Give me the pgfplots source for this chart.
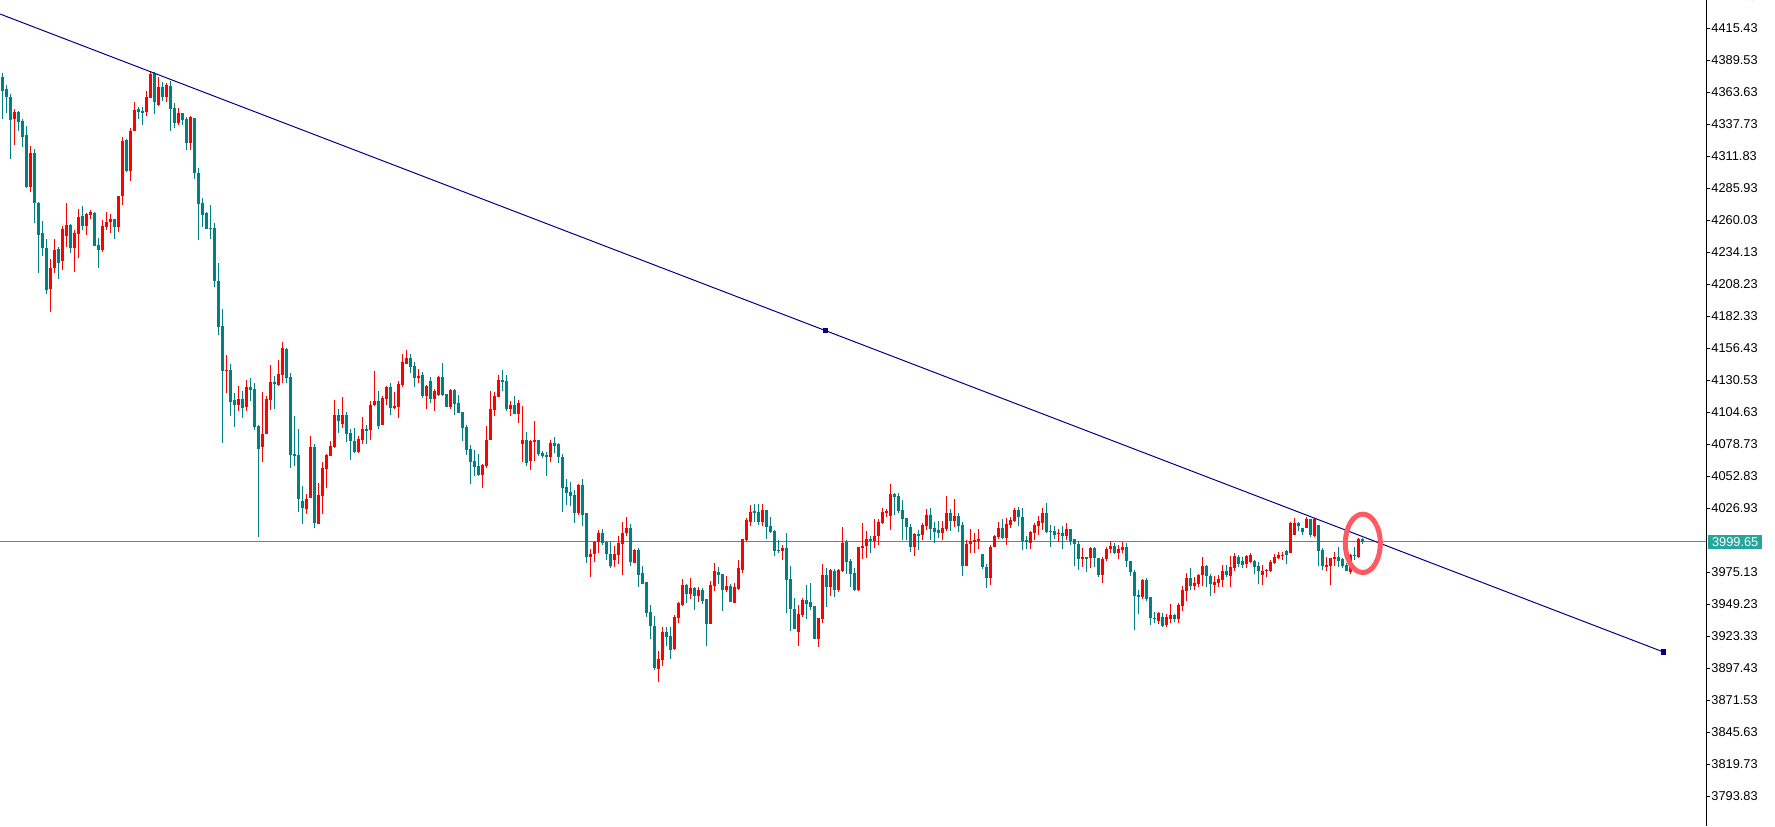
\documentclass[border=0pt]{standalone}
\usepackage{pgfplots}
\pgfplotsset{compat=1.18}
\usepackage{pgfplotstable}
\usepackage{fontspec}
\setmainfont{Liberation Sans}
\definecolor{bull}{RGB}{255,0,0}
\definecolor{bear}{RGB}{0,128,128}
\definecolor{pline}{RGB}{38,166,154}
\definecolor{tline}{RGB}{0,0,139}
\definecolor{ring}{RGB}{255,90,100}
\pgfplotstableread{
i o h l c
0 4375.7 4379.5 4341.7 4365.0
1 4366.3 4369.5 4347.1 4360.1
2 4359.8 4362.3 4309.3 4341.2
3 4341.7 4350.1 4320.9 4347.7
4 4347.7 4348.8 4332.6 4339.8
5 4340.4 4341.7 4319.6 4327.7
6 4329.0 4336.3 4286.1 4286.7
7 4287.2 4320.1 4283.1 4314.2
8 4314.2 4317.7 4258.0 4274.2
9 4274.2 4275.0 4217.0 4248.3
10 4249.7 4259.4 4231.3 4237.8
11 4237.8 4244.8 4200.3 4203.5
12 4204.3 4228.6 4185.9 4221.3
13 4221.3 4244.8 4217.5 4235.9
14 4236.7 4238.6 4212.7 4225.6
15 4227.0 4255.3 4219.7 4252.9
16 4247.2 4273.7 4238.1 4256.1
17 4256.1 4256.7 4233.7 4237.8
18 4237.8 4252.1 4218.1 4249.9
19 4249.1 4269.1 4229.7 4262.6
20 4263.4 4271.5 4252.1 4255.6
21 4255.6 4266.1 4248.0 4265.1
22 4264.2 4268.3 4260.7 4266.4
23 4266.1 4266.9 4239.1 4239.4
24 4239.9 4245.3 4221.6 4235.9
25 4235.9 4260.2 4234.3 4255.3
26 4254.8 4266.7 4252.1 4258.6
27 4258.6 4264.8 4249.9 4261.0
28 4261.0 4261.0 4244.8 4254.8
29 4254.8 4279.6 4250.7 4279.6
30 4279.6 4327.2 4272.3 4324.2
31 4324.7 4325.8 4299.3 4299.9
32 4299.9 4334.7 4292.1 4332.3
33 4332.3 4355.8 4332.3 4349.3
34 4350.1 4351.5 4342.0 4347.9
35 4348.5 4352.0 4337.1 4346.9
36 4347.4 4364.7 4344.7 4359.8
37 4359.3 4381.2 4359.3 4378.7
38 4379.3 4380.1 4346.3 4355.8
39 4353.3 4375.8 4352.5 4367.9
40 4367.9 4371.7 4356.3 4360.1
41 4360.1 4371.4 4356.0 4369.5
42 4368.7 4373.1 4332.6 4350.4
43 4350.9 4355.2 4334.7 4338.8
44 4339.0 4350.9 4337.4 4346.9
45 4346.9 4346.9 4337.4 4341.2
46 4342.0 4343.9 4316.9 4322.6
47 4322.6 4344.4 4316.9 4343.4
48 4343.1 4343.1 4293.7 4298.3
49 4298.3 4302.6 4244.0 4273.4
50 4274.0 4278.0 4254.8 4264.5
51 4266.1 4266.6 4252.9 4253.2
52 4253.7 4272.4 4244.8 4253.2
53 4253.7 4257.5 4205.9 4211.1
54 4211.1 4225.6 4167.3 4173.8
55 4174.3 4188.4 4079.8 4138.2
56 4138.2 4150.8 4120.3 4138.7
57 4138.4 4143.8 4101.7 4113.0
58 4114.4 4120.3 4092.8 4110.3
59 4110.3 4125.7 4105.8 4115.2
60 4115.2 4122.0 4100.1 4108.2
61 4109.0 4130.6 4105.8 4124.9
62 4124.9 4132.2 4113.9 4122.8
63 4123.3 4128.2 4090.1 4092.8
64 4093.6 4094.1 4003.7 4075.0
65 4076.6 4121.1 4064.4 4086.9
66 4086.9 4117.6 4086.9 4115.2
67 4114.4 4142.7 4106.3 4129.0
68 4129.0 4133.8 4107.1 4127.4
69 4126.6 4146.9 4126.1 4135.5
70 4134.7 4161.4 4128.0 4156.6
71 4155.8 4156.6 4128.2 4132.6
72 4133.1 4136.3 4059.7 4069.9
73 4070.7 4101.5 4060.8 4069.1
74 4069.9 4091.0 4023.8 4034.3
75 4032.7 4044.8 4014.1 4027.0
76 4026.2 4038.1 4022.4 4034.3
77 4035.1 4085.3 4035.1 4076.4
78 4076.4 4079.1 4010.8 4014.9
79 4014.1 4047.3 4014.1 4037.5
80 4036.7 4064.3 4022.2 4059.4
81 4058.6 4070.7 4043.2 4069.9
82 4069.1 4081.3 4069.1 4077.2
83 4076.1 4114.2 4075.6 4102.3
84 4102.3 4107.2 4087.8 4097.5
85 4095.0 4116.9 4091.8 4102.3
86 4102.3 4104.8 4080.5 4087.0
87 4087.8 4091.0 4065.9 4081.3
88 4081.3 4091.8 4071.6 4072.4
89 4072.4 4085.3 4071.6 4082.9
90 4082.1 4100.4 4078.9 4091.0
91 4091.0 4094.2 4078.9 4089.4
92 4090.2 4114.0 4082.4 4110.4
93 4110.4 4138.0 4109.6 4113.7
94 4113.7 4121.8 4091.0 4093.4
95 4094.2 4117.7 4094.2 4116.1
96 4115.3 4125.8 4110.4 4125.0
97 4125.0 4128.2 4102.3 4108.3
98 4107.7 4121.0 4107.2 4109.6
99 4108.8 4130.1 4099.9 4127.4
100 4126.6 4151.7 4125.3 4145.2
101 4143.6 4154.9 4143.6 4148.5
102 4148.5 4151.7 4136.3 4141.5
103 4142.0 4145.2 4125.3 4132.3
104 4132.3 4139.6 4128.2 4133.9
105 4134.7 4137.1 4116.1 4117.7
106 4117.7 4126.6 4107.2 4125.8
107 4129.9 4133.4 4112.0 4115.3
108 4115.3 4123.4 4105.6 4121.8
109 4118.5 4133.9 4117.7 4133.1
110 4133.1 4144.4 4117.7 4118.5
111 4119.3 4119.3 4108.8 4108.8
112 4108.8 4123.4 4107.2 4122.6
113 4122.6 4123.4 4102.3 4111.2
114 4112.0 4118.5 4103.7 4103.9
115 4104.8 4104.8 4081.3 4091.8
116 4092.6 4094.2 4069.9 4074.0
117 4074.8 4078.1 4046.5 4064.3
118 4065.1 4074.0 4053.0 4060.2
119 4061.0 4070.7 4053.0 4053.8
120 4053.8 4062.3 4043.2 4061.8
121 4061.0 4093.4 4059.7 4082.1
122 4082.1 4121.8 4082.1 4107.2
123 4106.4 4120.7 4101.8 4117.7
124 4116.9 4134.7 4116.9 4130.6
125 4130.6 4138.8 4121.8 4129.0
126 4129.9 4134.7 4105.6 4107.2
127 4107.2 4113.7 4101.5 4110.4
128 4110.4 4117.7 4103.1 4103.1
129 4103.1 4114.5 4095.9 4112.0
130 4078.9 4109.6 4064.3 4082.1
131 4082.1 4088.6 4061.0 4063.5
132 4065.1 4082.1 4057.8 4081.3
133 4080.5 4097.5 4065.1 4082.1
134 4082.1 4082.1 4069.1 4070.7
135 4071.6 4073.2 4067.5 4069.1
136 4069.9 4072.4 4053.0 4068.3
137 4068.6 4082.1 4064.0 4079.4
138 4079.4 4084.3 4071.8 4077.5
139 4078.9 4079.4 4063.7 4068.6
140 4068.6 4070.5 4024.1 4043.5
141 4043.8 4050.5 4029.4 4039.4
142 4040.0 4048.3 4028.6 4037.0
143 4037.8 4041.6 4014.9 4023.0
144 4023.0 4046.5 4021.6 4045.9
145 4045.4 4050.5 4012.7 4021.6
146 4023.0 4023.0 3982.7 3987.6
147 3987.6 3993.8 3971.4 3989.8
148 3990.0 4000.3 3983.6 3999.5
149 3999.2 4009.2 3990.8 4006.8
150 4006.8 4010.0 3997.3 3998.7
151 3999.5 4000.3 3984.9 3990.0
152 3990.0 3999.8 3978.7 3980.3
153 3985.2 3996.2 3979.5 3990.0
154 3989.2 4004.3 3981.9 3998.9
155 3997.9 4015.7 3973.0 4006.8
156 4006.8 4019.7 4004.3 4011.1
157 4011.1 4014.1 3980.3 3983.5
158 3982.7 3993.8 3982.5 3993.3
159 3993.3 3994.9 3963.3 3973.0
160 3974.4 3980.3 3965.5 3965.7
161 3967.3 3967.3 3938.7 3942.2
162 3942.8 3948.4 3921.2 3931.7
163 3931.7 3939.5 3896.1 3897.1
164 3896.9 3911.2 3886.3 3904.7
165 3903.9 3930.9 3899.3 3926.6
166 3926.6 3930.9 3915.5 3922.8
167 3923.3 3930.6 3905.0 3912.0
168 3912.8 3940.3 3912.3 3939.0
169 3938.2 3951.1 3933.9 3950.1
170 3948.7 3969.8 3947.6 3964.7
171 3964.7 3965.5 3950.3 3957.6
172 3957.6 3970.3 3953.6 3962.5
173 3962.5 3963.3 3944.7 3955.7
174 3955.7 3963.0 3951.1 3960.6
175 3960.6 3962.2 3949.3 3952.0
176 3953.3 3953.3 3915.5 3933.1
177 3933.1 3968.2 3933.1 3964.7
178 3964.1 3982.5 3959.8 3976.0
179 3975.2 3979.0 3965.7 3972.7
180 3973.6 3973.8 3943.9 3960.6
181 3960.6 3971.9 3959.2 3963.8
182 3963.8 3965.7 3950.9 3950.9
183 3950.1 3966.5 3950.1 3963.0
184 3961.4 3984.9 3960.9 3978.4
185 3976.8 4002.2 3974.6 4001.9
186 4001.1 4018.9 4000.3 4017.3
187 4015.7 4029.4 4012.7 4023.8
188 4024.6 4030.3 4015.7 4023.0
189 4023.8 4030.3 4013.3 4015.7
190 4015.7 4030.3 4012.7 4025.4
191 4025.4 4025.4 4001.9 4011.9
192 4012.4 4019.7 4006.8 4007.6
193 4008.4 4009.2 3988.1 3992.5
194 3993.0 4001.1 3990.6 3992.2
195 3992.2 3997.0 3985.2 3994.6
196 3994.6 4006.8 3942.2 3969.0
197 3969.5 3980.0 3927.7 3945.5
198 3945.5 3954.4 3928.8 3929.0
199 3926.9 3948.4 3915.5 3941.4
200 3940.6 3954.4 3938.7 3952.5
201 3952.8 3964.9 3937.4 3949.5
202 3950.9 3966.5 3944.4 3946.8
203 3947.9 3947.9 3921.2 3921.2
204 3921.2 3938.2 3914.7 3938.2
205 3937.4 3981.7 3934.1 3972.7
206 3972.7 3978.4 3946.8 3963.0
207 3963.0 3977.3 3955.7 3976.8
208 3976.3 3977.9 3954.9 3960.6
209 3960.6 3977.3 3959.2 3976.8
210 3976.0 4011.6 3975.2 3998.7
211 3999.2 4001.1 3973.3 3983.3
212 3984.4 3985.4 3963.0 3973.6
213 3974.4 3978.4 3959.8 3960.6
214 3960.6 3995.7 3959.8 3995.4
215 3994.6 4014.9 3985.7 3996.2
216 3996.2 4008.4 3986.8 4001.9
217 4001.9 4004.3 3990.8 4000.3
218 4000.3 4018.1 3994.3 4004.3
219 4004.3 4018.4 3997.3 4015.9
220 4015.1 4027.0 4014.3 4024.0
221 4023.0 4026.2 4020.0 4024.6
222 4020.8 4046.5 4009.5 4038.4
223 4038.4 4038.9 4021.6 4036.2
224 4036.7 4039.2 4023.0 4024.6
225 4025.4 4033.5 4001.1 4018.4
226 4018.9 4018.9 4001.1 4011.6
227 4011.6 4014.1 3991.7 3995.4
228 3995.4 4006.5 3988.1 4006.0
229 4006.0 4009.2 3993.0 4004.6
230 4005.1 4015.1 4001.1 4013.5
231 4012.7 4026.5 4009.2 4021.6
232 4021.6 4027.3 4001.1 4010.0
233 4010.8 4015.9 3998.4 4007.6
234 4009.2 4016.5 4002.7 4007.0
235 4007.0 4016.5 4001.4 4010.8
236 4010.0 4036.7 4008.7 4023.0
237 4023.0 4026.5 4008.1 4016.8
238 4016.8 4034.0 4011.6 4020.5
239 4020.5 4023.2 4007.9 4012.7
240 4013.3 4015.9 3972.2 3980.3
241 3980.3 4001.1 3980.0 3997.9
242 3997.9 4010.0 3990.8 4000.3
243 3999.5 4006.5 3990.8 4001.1
244 4000.3 4010.0 3993.8 4001.9
245 3989.8 3989.8 3977.3 3979.5
246 3979.2 3981.9 3962.5 3970.6
247 3970.6 3997.0 3964.7 3995.4
248 3995.4 4004.9 3995.4 4004.3
249 4003.8 4015.7 4002.2 4011.1
250 4010.8 4018.4 4002.2 4003.0
251 4002.7 4018.9 3997.3 4014.3
252 4013.3 4019.7 4011.1 4017.6
253 4016.8 4027.0 4015.9 4025.7
254 4025.7 4028.1 4012.7 4019.7
255 4019.7 4027.0 3993.0 4000.3
256 4001.1 4004.3 3993.8 3999.5
257 3998.9 4008.4 3994.1 4007.6
258 4007.0 4014.9 4001.1 4013.3
259 4012.7 4020.8 4005.1 4016.8
260 4015.1 4027.0 4009.5 4023.0
261 4023.0 4031.1 4007.0 4007.9
262 4008.4 4013.3 3995.7 4007.6
263 4008.4 4012.4 4002.2 4005.1
264 4006.0 4010.0 3999.5 4006.8
265 4006.8 4012.4 3993.8 4004.6
266 4004.6 4014.9 4001.1 4010.0
267 4010.0 4010.0 3997.3 4000.3
268 4002.2 4002.2 3980.0 3997.9
269 3997.9 4000.0 3977.1 3986.0
270 3985.7 3994.6 3979.5 3987.3
271 3987.3 3987.3 3975.4 3985.7
272 3986.8 3995.2 3978.7 3994.3
273 3994.3 3995.2 3979.5 3986.5
274 3986.3 3986.3 3971.4 3973.0
275 3973.0 3987.6 3966.5 3986.0
276 3985.4 3995.7 3984.4 3993.5
277 3994.1 4000.6 3990.3 3996.0
278 3996.2 3998.9 3989.8 3990.6
279 3990.6 3996.8 3985.4 3993.5
280 3992.7 3999.2 3990.3 3995.2
281 3995.2 3998.4 3979.5 3983.8
282 3983.8 3983.8 3971.7 3975.4
283 3975.4 3976.8 3928.5 3955.7
284 3956.3 3960.9 3940.9 3955.2
285 3955.2 3969.2 3953.6 3968.7
286 3968.7 3970.3 3952.0 3953.6
287 3955.2 3955.2 3932.2 3937.6
288 3938.2 3943.0 3933.9 3936.8
289 3935.5 3943.0 3933.1 3942.2
290 3939.0 3942.2 3930.9 3931.4
291 3932.5 3941.4 3930.9 3939.0
292 3936.8 3949.5 3934.1 3940.1
293 3940.3 3941.4 3934.7 3936.8
294 3937.1 3949.8 3934.1 3948.4
295 3947.9 3964.1 3943.9 3960.6
296 3960.1 3974.1 3952.0 3970.6
297 3970.6 3978.7 3960.9 3963.8
298 3964.1 3971.4 3960.9 3966.0
299 3965.5 3973.6 3963.3 3972.7
300 3972.5 3987.6 3963.6 3980.0
301 3980.0 3980.8 3963.3 3972.2
302 3972.2 3973.6 3955.5 3965.2
303 3964.4 3972.2 3957.9 3967.3
304 3966.5 3972.5 3963.3 3969.8
305 3968.7 3980.6 3963.3 3976.3
306 3976.3 3980.8 3971.4 3973.0
307 3971.9 3988.1 3963.3 3979.2
308 3978.7 3990.8 3976.3 3988.1
309 3987.6 3989.2 3979.0 3981.9
310 3984.1 3987.6 3978.7 3980.8
311 3981.7 3988.7 3978.7 3988.1
312 3983.6 3990.8 3982.5 3988.7
313 3984.1 3984.9 3973.8 3979.0
314 3980.0 3983.3 3965.7 3976.3
315 3973.0 3980.8 3964.6 3976.0
316 3975.7 3977.9 3970.9 3977.1
317 3976.3 3984.9 3975.4 3983.6
318 3982.7 3989.5 3981.9 3987.6
319 3986.8 3991.1 3985.7 3989.2
320 3988.4 3991.4 3984.9 3989.2
321 3991.9 3993.0 3981.7 3988.7
322 3990.8 4016.0 3990.8 4015.1
323 4005.4 4018.6 4004.9 4015.1
324 4015.1 4015.7 4008.7 4012.2
325 4011.1 4011.1 4005.4 4007.8
326 4011.1 4019.5 4011.1 4018.4
327 4018.4 4018.4 4003.3 4004.9
328 4004.3 4018.9 4003.3 4018.4
329 4013.0 4013.0 3980.3 3991.9
330 3993.0 3994.4 3976.8 3980.3
331 3979.5 3987.6 3975.7 3980.6
332 3980.3 3986.8 3964.6 3986.8
333 3985.4 3991.7 3980.3 3987.1
334 3987.6 3995.7 3979.5 3984.4
335 3985.4 3986.3 3978.7 3980.3
336 3980.8 3982.2 3975.7 3976.0
337 3974.9 3989.8 3973.8 3988.7
338 3988.7 3995.2 3984.9 3987.9
339 3987.6 4002.4 3986.5 4002.2
340 4002.2 4003.0 3997.9 3999.65
}\candles
\begin{document}
\begin{tikzpicture}
\useasboundingbox (0,0) rectangle (887.5pt,413pt);
\begin{axis}[
  at={(0,0)}, anchor=south west,
  scale only axis, width=853pt, height=413pt,
  xmin=-0.575, xmax=425.9, ymin=3769.54, ymax=4438.35,
  clip=false,
  axis x line=none,
  axis y line*=right,
  y axis line style={-, black, line width=0.5pt},
  ytick pos=right, yticklabel pos=right,
  tick align=outside, major tick length=2pt,
  tick style={black, line width=0.5pt},
  ytick={3793.83,3819.73,3845.63,3871.53,3897.43,3923.33,3949.23,3975.13,4026.93,4052.83,4078.73,4104.63,4130.53,4156.43,4182.33,4208.23,4234.13,4260.03,4285.93,4311.83,4337.73,4363.63,4389.53,4415.43},
  yticklabels={3793.83,3819.73,3845.63,3871.53,3897.43,3923.33,3949.23,3975.13,4026.93,4052.83,4078.73,4104.63,4130.53,4156.43,4182.33,4208.23,4234.13,4260.03,4285.93,4311.83,4337.73,4363.63,4389.53,4415.43},
  yticklabel style={font=\fontsize{6.4}{7}\selectfont, anchor=west, inner sep=0pt, xshift=0.5pt},
]
% current price line
\addplot[pline, line width=0.5pt, forget plot] coordinates {(-0.575,3999.65) (425.9,3999.65)};
% wicks
\addplot[draw=none, mark=none, forget plot,
  error bars/.cd, y dir=plus, y explicit, error mark=none,
  error bar style={draw=bear, line width=0.5pt}]
  table[x=i, y expr={\thisrow{c}<\thisrow{o} ? \thisrow{l} : nan},
        y error plus expr={\thisrow{h}-\thisrow{l}}] {\candles};
\addplot[draw=none, mark=none, forget plot,
  error bars/.cd, y dir=plus, y explicit, error mark=none,
  error bar style={draw=bull, line width=0.5pt}]
  table[x=i, y expr={\thisrow{c}>\thisrow{o} ? \thisrow{l} : nan},
        y error plus expr={\thisrow{h}-\thisrow{l}}] {\candles};
% bodies
\addplot[draw=none, mark=none, forget plot,
  error bars/.cd, y dir=plus, y explicit, error mark=none,
  error bar style={draw=bear, line width=1.5pt}]
  table[x=i, y expr={\thisrow{c}<\thisrow{o} ? \thisrow{c} : nan},
        y error plus expr={max(\thisrow{o}-\thisrow{c},0.8)}] {\candles};
\addplot[draw=none, mark=none, forget plot,
  error bars/.cd, y dir=plus, y explicit, error mark=none,
  error bar style={draw=bull, line width=1.5pt}]
  table[x=i, y expr={\thisrow{c}>\thisrow{o} ? \thisrow{o} : nan},
        y error plus expr={max(\thisrow{c}-\thisrow{o},0.8)}] {\candles};
% trend line
\addplot[tline, line width=0.5pt, forget plot] coordinates {(-0.575,4427.0) (415.2,3910.5)};
\addplot[only marks, mark=square*, mark size=1.1pt, tline, forget plot] coordinates {(205.7,4170.8) (415.2,3910.5)};
% ring
\draw[ring, line width=2.5pt] (axis cs:340.1,3998.4) ellipse [x radius=8.75pt, y radius=14.6pt];
% price label
\node[fill=pline, text=white, font=\fontsize{6.4}{7}\selectfont, anchor=west, inner xsep=2pt, inner ysep=0pt, minimum height=6.7pt] at (axis cs:426.3,3999.65) {3999.65};
\node[font=\fontsize{6.4}{7}\selectfont, anchor=west, inner sep=0pt] at (axis cs:426.9,4441.33) {4441.33};
\end{axis}
\end{tikzpicture}
\end{document}
